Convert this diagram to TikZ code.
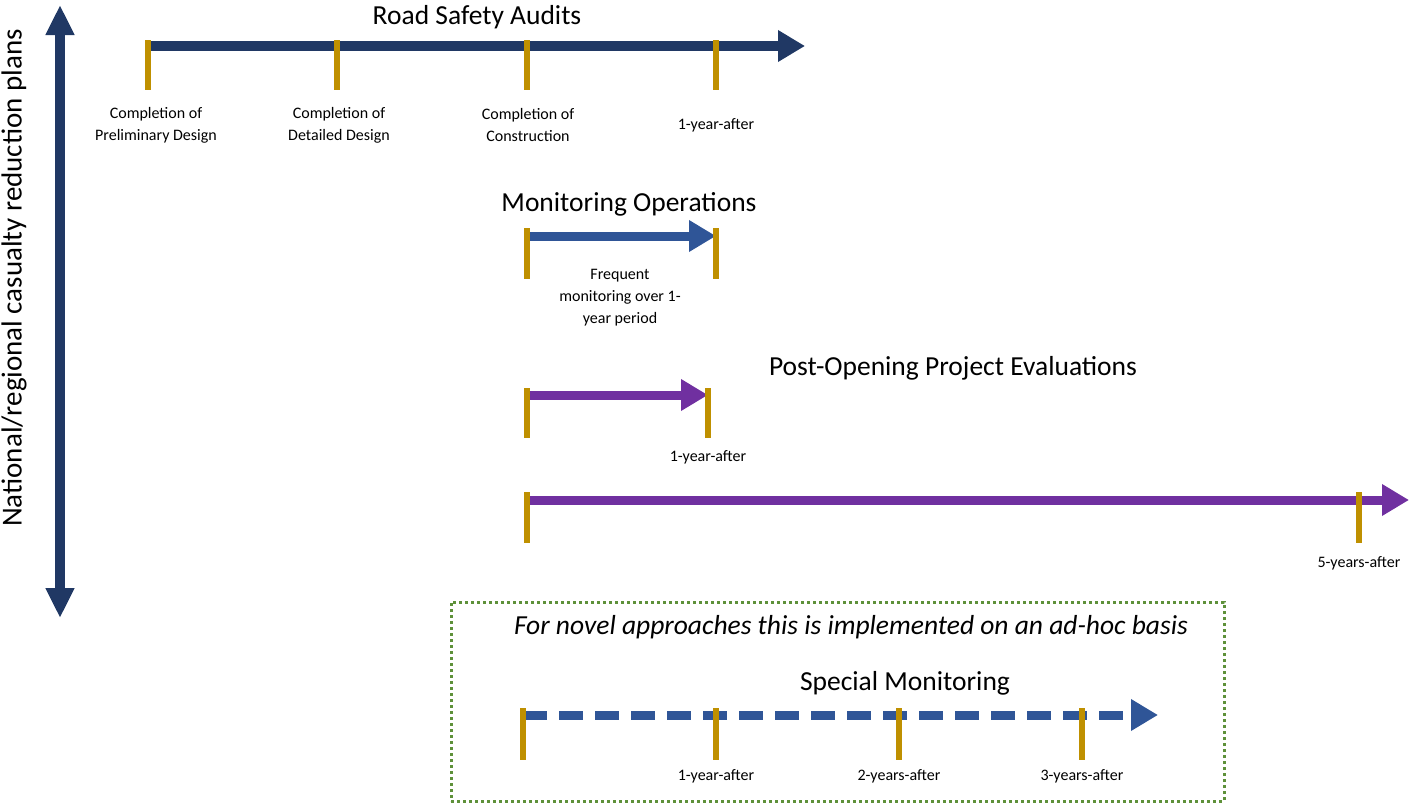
\documentclass[tikz,border=0pt]{standalone}
\usepackage{fontspec}
\setmainfont{Carlito}
\usetikzlibrary{arrows.meta, positioning}
\definecolor{navy}{HTML}{203864}
\definecolor{midblue}{HTML}{2F5597}
\definecolor{evalpurple}{HTML}{7030A0}
\definecolor{tickgold}{HTML}{BF9000}
\definecolor{boxgreen}{HTML}{5E913A}

\tikzset{
  tick/.style={draw=tickgold, line width=6pt},
  small/.style={font=\fontsize{16}{22}\selectfont, align=center},
  title/.style={font=\fontsize{27.5}{32}\selectfont},
  head/.style={-{Triangle[length=27pt,width=30pt]}},
}

\begin{document}
\begin{tikzpicture}[x=1pt, y=-1pt]
    \useasboundingbox (0,0) rectangle (1409,806);

    % vertical axis
    \coordinate (axtop) at (60,5);
    \coordinate (axbot) at (60,618);
    \draw[navy, line width=10pt, {Triangle[length=30pt,width=27pt]}-{Triangle[length=30pt,width=27pt]}] (axtop) -- (axbot);
    \node[rotate=90, font=\fontsize{29}{33}\selectfont] (axlabel) at (14,278) {National/regional casualty reduction plans};

    % road safety audits
    \node[title] (rsa) at (477,17) {Road Safety Audits};
    \coordinate (rsastart) at (148,46);
    \coordinate (rsaend) at (805,46);
    \draw[navy, line width=10pt, head] (rsastart) -- (rsaend);
    \foreach \x in {148,337,527,716}
        \draw[tick] (\x,40) -- (\x,90);
    \node[small] (prelim) at (156,125) {Completion of\\Preliminary Design};
    \node[small] (detail) at (339,125) {Completion of\\Detailed Design};
    \node[small] (constr) at (528,125) {Completion of\\Construction};
    \node[small] (rsayear) at (716,125) {1-year-after};

    % monitoring operations
    \node[title] (monops) at (629,204) {Monitoring Operations};
    \coordinate (monstart) at (527,236);
    \coordinate (monend) at (716,236);
    \draw[midblue, line width=9pt, head] (monstart) -- (monend);
    \foreach \x in {527,716}
        \draw[tick] (\x,228) -- (\x,279);
    \node[small] (frequent) at (620,298) {Frequent\\monitoring over 1-\\year period};

    % post-opening evaluations
    \node[title] (poe) at (953,368) {Post-Opening Project Evaluations};
    \coordinate (poestart) at (527,395);
    \coordinate (poeend) at (708,395);
    \draw[evalpurple, line width=9pt, head] (poestart) -- (poeend);
    \foreach \x in {527,708}
        \draw[tick] (\x,388) -- (\x,438);
    \node[small] (poeyear) at (708,457) {1-year-after};

    \coordinate (longstart) at (527,500);
    \coordinate (longend) at (1409,500);
    \draw[evalpurple, line width=9pt, head] (longstart) -- (longend);
    \foreach \x in {527,1359}
        \draw[tick] (\x,492) -- (\x,543);
    \node[small] (poefive) at (1359,563) {5-years-after};

    % special monitoring
    \node[draw=boxgreen, line width=3pt, dash pattern=on 3pt off 3pt,
          minimum width=773pt, minimum height=199pt] (adhoc) at (837.5,701.5) {};
    \node[font=\fontsize{27.5}{31}\selectfont\itshape] (adhocnote) at (851,627) {For novel approaches this is implemented on an ad-hoc basis};
    \node[title] (special) at (905,683) {Special Monitoring};
    \coordinate (spstart) at (523,715);
    \coordinate (spend) at (1158,715);
    \draw[midblue, line width=9pt, dash pattern=on 24pt off 12pt, head] (spstart) -- (spend);
    \foreach \x in {523,716,899,1082}
        \draw[tick] (\x,708) -- (\x,760);
    \node[small] (spone) at (716,776) {1-year-after};
    \node[small] (sptwo) at (899,776) {2-years-after};
    \node[small] (spthree) at (1082,776) {3-years-after};
\end{tikzpicture}
\end{document}
